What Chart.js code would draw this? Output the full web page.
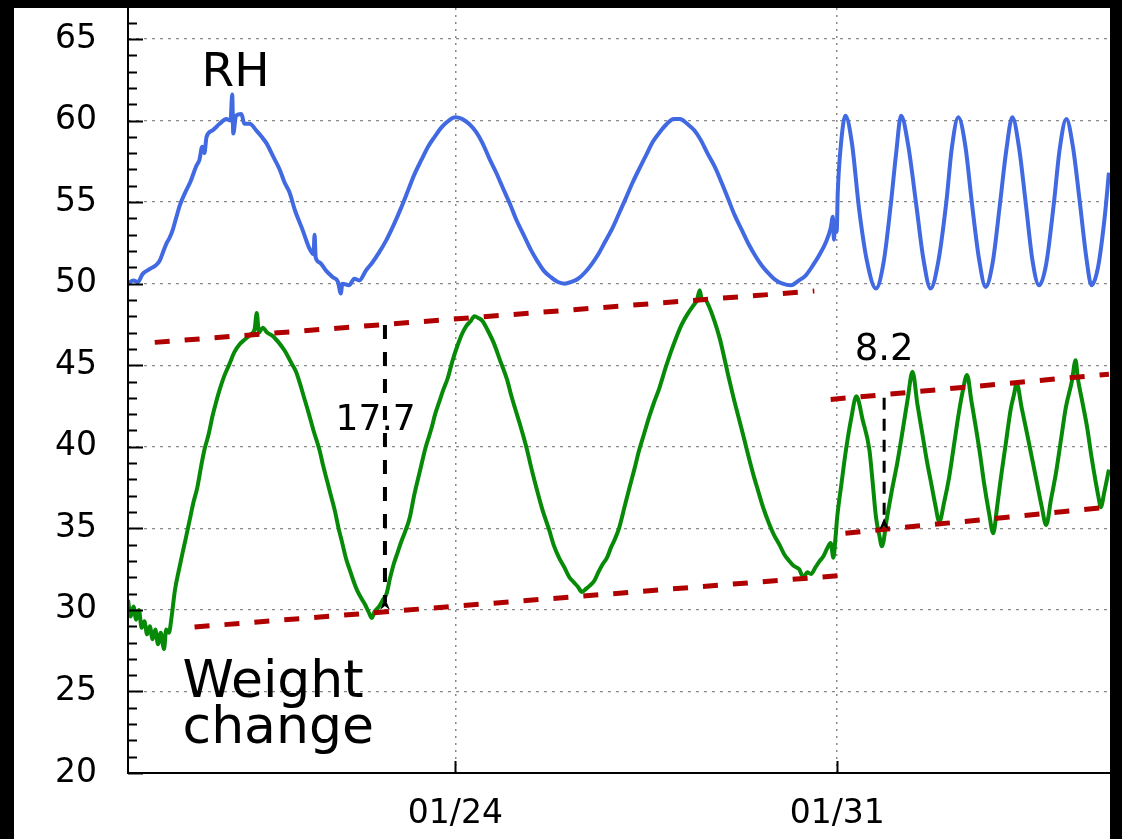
<!DOCTYPE html>
<html>
<head>
<meta charset="utf-8">
<script src="https://cdn.jsdelivr.net/npm/chart.js@4.4.1/dist/chart.umd.min.js"></script>
<style>
  body { margin: 0; background: #000; }
  #wrap { position: absolute; left: 14px; top: 8px; width: 1096px; height: 831px; background: #fff; }
  canvas { display: block; }
</style>
</head>
<body>
<div id="wrap"><canvas id="chart" width="1096" height="831"></canvas></div>
<script>
// days counted from 01/18
const xTickDays = [6, 13];
const xTickLabels = ['01/24', '01/31'];

const rhPoints = [
  [0.00,50.0],[0.10,50.2],[0.18,50.1],[0.27,50.6],[0.40,50.9],[0.50,51.1],[0.58,51.4],[0.65,52.0],[0.71,52.5],[0.76,52.8],
  [0.82,53.3],[0.88,54.0],[0.95,54.8],[1.05,55.6],[1.15,56.3],[1.25,57.2],[1.31,57.6],[1.36,58.4],[1.40,58.0],[1.44,59.0],
  [1.55,59.4],[1.68,59.8],[1.80,60.1],[1.88,60.0],[1.91,61.6],[1.93,59.2],[1.98,60.3],[2.08,60.4],[2.13,59.8],[2.23,59.8],
  [2.35,59.4],[2.45,59.0],[2.54,58.6],[2.66,57.8],[2.78,57.0],[2.87,56.2],[2.96,55.6],[3.06,54.5],[3.20,53.3],[3.32,52.2],
  [3.40,51.8],[3.42,53.0],[3.44,51.6],[3.51,51.3],[3.63,50.8],[3.75,50.4],[3.85,50.1],[3.90,49.4],[3.93,50.0],[4.05,49.9],
  [4.15,50.3],[4.24,50.2],[4.36,50.8],[4.48,51.3],[4.60,51.9],[4.74,52.7],[4.87,53.6],[5.00,54.6],[5.12,55.6],[5.25,56.7],
  [5.38,57.6],[5.50,58.4],[5.62,59.0],[5.75,59.6],[5.88,60.0],[6.00,60.2],[6.12,60.1],[6.25,59.8],[6.38,59.3],[6.50,58.6],
  [6.62,57.7],[6.75,56.8],[6.88,55.8],[7.00,54.9],[7.12,53.9],[7.25,53.0],[7.38,52.1],[7.50,51.4],[7.62,50.8],[7.75,50.4],
  [7.88,50.1],[8.00,50.0],[8.12,50.1],[8.25,50.3],[8.38,50.7],[8.50,51.2],[8.62,51.8],[8.75,52.6],[8.88,53.4],[9.00,54.3],
  [9.12,55.2],[9.25,56.2],[9.38,57.1],[9.50,57.9],[9.62,58.7],[9.75,59.3],[9.88,59.8],[10.00,60.1],[10.12,60.1],[10.25,59.8],
  [10.38,59.4],[10.50,58.8],[10.62,58.0],[10.75,57.2],[10.88,56.2],[11.00,55.2],[11.12,54.2],[11.25,53.3],[11.38,52.4],[11.50,51.7],
  [11.62,51.1],[11.75,50.6],[11.88,50.2],[12.00,50.0],[12.15,49.9],[12.30,50.2],[12.42,50.5],[12.55,51.1],[12.68,51.8],[12.80,52.6],
  [12.88,53.4],[12.92,54.1],[12.94,52.7],[12.96,53.8],[12.99,53.2],[13.01,55.6],[13.07,58.6],[13.15,60.3],[13.27,58.6],[13.40,54.6],
  [13.55,51.3],[13.71,49.7],[13.85,51.3],[13.98,54.8],[14.08,58.0],[14.17,60.3],[14.30,58.5],[14.45,54.8],[14.58,51.5],[14.71,49.7],
  [14.85,51.3],[15.00,55.0],[15.10,58.3],[15.22,60.2],[15.35,58.4],[15.47,54.9],[15.60,51.5],[15.72,49.8],[15.85,51.3],[15.98,54.8],
  [16.10,58.2],[16.21,60.2],[16.33,58.4],[16.46,54.8],[16.58,51.4],[16.70,49.9],[16.83,51.2],[16.97,54.9],[17.08,58.3],[17.20,60.1],
  [17.32,58.4],[17.45,54.9],[17.57,51.5],[17.66,49.9],[17.78,51.0],[17.90,54.0],[17.98,56.8]
];

const weightPoints = [
  [0.00,30.6],[0.05,29.6],[0.10,30.2],[0.15,29.4],[0.20,30.0],[0.25,28.9],[0.30,29.3],[0.35,28.5],[0.40,29.0],[0.45,28.2],
  [0.50,28.8],[0.55,27.9],[0.60,28.6],[0.66,27.6],[0.70,28.8],[0.75,28.6],[0.80,29.6],[0.86,31.2],[0.93,32.4],[1.00,33.5],
  [1.06,34.4],[1.13,35.5],[1.20,36.6],[1.27,37.5],[1.34,38.8],[1.40,39.8],[1.48,40.8],[1.55,41.9],[1.62,42.8],[1.68,43.5],
  [1.76,44.3],[1.85,45.0],[1.95,45.8],[2.05,46.3],[2.15,46.6],[2.25,46.9],[2.32,47.2],[2.36,48.2],[2.40,47.0],[2.47,47.3],
  [2.55,47.0],[2.65,46.8],[2.76,46.4],[2.87,45.9],[3.00,45.1],[3.08,44.6],[3.15,43.9],[3.22,43.1],[3.30,42.2],[3.40,41.0],
  [3.51,39.8],[3.58,38.8],[3.65,37.9],[3.72,37.0],[3.79,36.1],[3.86,35.0],[3.92,34.2],[4.00,33.1],[4.06,32.5],[4.13,31.8],
  [4.20,31.2],[4.28,30.7],[4.35,30.3],[4.42,29.8],[4.47,29.5],[4.52,29.9],[4.60,30.2],[4.67,30.6],[4.74,31.0],[4.80,31.9],
  [4.87,32.8],[4.94,33.5],[5.00,34.1],[5.08,34.8],[5.16,35.6],[5.25,37.1],[5.35,38.5],[5.45,39.9],[5.56,41.1],[5.63,42.0],
  [5.70,42.7],[5.78,43.5],[5.86,44.2],[5.95,45.3],[6.05,46.3],[6.12,46.9],[6.20,47.4],[6.28,47.7],[6.35,48.0],[6.42,47.9],
  [6.50,47.7],[6.60,47.1],[6.70,46.4],[6.82,45.3],[6.95,44.1],[7.02,43.2],[7.10,42.3],[7.20,41.2],[7.30,40.0],[7.40,38.6],
  [7.50,37.3],[7.60,36.1],[7.72,34.9],[7.80,34.0],[7.90,33.2],[8.00,32.6],[8.09,32.0],[8.17,31.7],[8.25,31.4],[8.32,31.1],
  [8.40,31.3],[8.47,31.5],[8.55,31.8],[8.62,32.3],[8.70,32.8],[8.78,33.2],[8.85,33.8],[8.92,34.3],[9.00,35.0],[9.10,36.3],
  [9.20,37.6],[9.28,38.6],[9.37,39.8],[9.46,40.8],[9.55,41.8],[9.64,42.7],[9.74,43.6],[9.85,44.8],[9.95,45.8],[10.05,46.7],
  [10.15,47.5],[10.25,48.1],[10.35,48.6],[10.43,49.0],[10.48,49.6],[10.52,49.0],[10.58,49.0],[10.65,48.6],[10.75,47.7],[10.85,46.6],
  [10.92,45.6],[11.00,44.4],[11.10,43.0],[11.20,41.7],[11.30,40.4],[11.39,39.2],[11.47,38.2],[11.55,37.3],[11.65,36.2],[11.75,35.3],
  [11.84,34.6],[11.94,34.0],[12.03,33.4],[12.12,33.0],[12.20,32.7],[12.30,32.5],[12.38,32.0],[12.45,32.3],[12.52,32.2],[12.60,32.6],
  [12.68,33.0],[12.75,33.3],[12.82,33.8],[12.88,34.1],[12.93,33.2],[12.97,34.5],[13.00,35.7],[13.08,37.8],[13.16,39.8],[13.26,41.8],
  [13.35,43.1],[13.47,41.6],[13.59,39.8],[13.65,37.8],[13.71,35.7],[13.77,34.6],[13.82,33.9],[13.91,35.6],[14.00,37.3],[14.10,39.0],
  [14.19,40.8],[14.29,42.9],[14.38,44.6],[14.47,42.6],[14.56,40.8],[14.64,39.2],[14.72,37.8],[14.80,36.4],[14.87,35.4],[14.96,36.6],
  [15.05,38.1],[15.14,40.1],[15.23,42.1],[15.30,43.4],[15.38,44.4],[15.46,42.8],[15.54,41.2],[15.62,39.5],[15.69,37.8],[15.78,36.0],
  [15.86,34.7],[15.93,36.3],[16.00,38.1],[16.09,40.2],[16.18,42.3],[16.24,43.2],[16.29,43.9],[16.38,42.4],[16.48,40.8],[16.57,39.3],
  [16.66,37.8],[16.75,36.3],[16.83,35.2],[16.92,36.8],[17.01,38.4],[17.10,40.4],[17.19,42.4],[17.30,44.0],[17.37,45.3],[17.41,44.2],
  [17.49,42.8],[17.58,41.2],[17.66,39.4],[17.74,37.8],[17.79,36.9],[17.83,36.3],[17.90,37.3],[17.98,38.6]
];

// envelope lines (dashed red)
const trendUpperSlow = [[0.49,46.4],[12.58,49.55]];
const trendLowerSlow = [[1.22,28.95],[13.22,32.15]];
const trendUpperFast = [[12.88,42.9],[17.98,44.45]];
const trendLowerFast = [[13.15,34.7],[17.98,36.3]];

// amplitude markers: x in days, from/to in % values
const amplitudeMarks = [
  { text: '17.7', day: 4.71, from: 47.47, to: 30.0, textDay: 4.54, textValue: 41.6, big: true },
  { text: '8.2', day: 13.86, from: 43.0, to: 34.9, textDay: 13.86, textValue: 45.9, big: false }
];

const seriesNotes = [
  { lines: ['RH'], day: 1.97, value: 62.12, align: 'center', size: 47 },
  { lines: ['Weight', 'change'], day: 1.0, value: 24.66, align: 'left', size: 52 }
];

const toXY = pts => pts.map(p => ({ x: p[0], y: p[1] }));

const trendStyle = {
  borderColor: '#b00000',
  borderWidth: 5,
  borderDash: [15, 15],
  pointRadius: 0,
  fill: false
};

const overlay = {
  id: 'overlay',
  afterDatasetsDraw(chart) {
    const { ctx, chartArea: a, scales: { x, y } } = chart;
    ctx.save();
    ctx.setLineDash([]);
    ctx.strokeStyle = '#000';
    ctx.lineWidth = 2;

    // axes
    ctx.beginPath();
    ctx.moveTo(a.left, a.top);
    ctx.lineTo(a.left, a.bottom);
    ctx.lineTo(a.right, a.bottom);
    ctx.stroke();

    // inner tick marks
    ctx.beginPath();
    y.ticks.forEach(t => {
      const py = Math.round(y.getPixelForValue(t.value)) + 0.5;
      const len = t.value % 5 === 0 ? 15 : 9;
      ctx.moveTo(a.left, py);
      ctx.lineTo(a.left + len, py);
    });
    x.ticks.forEach(t => {
      const px = Math.round(x.getPixelForValue(t.value)) + 0.5;
      ctx.moveTo(px, a.bottom);
      ctx.lineTo(px, a.bottom - 12);
    });
    ctx.stroke();

    // amplitude markers
    amplitudeMarks.forEach(m => {
      const px = x.getPixelForValue(m.day);
      const top = y.getPixelForValue(m.from);
      const bottom = y.getPixelForValue(m.to);
      ctx.strokeStyle = '#000';
      ctx.lineWidth = m.big ? 4 : 3;
      ctx.setLineDash(m.big ? [14, 13] : [12, 9]);
      ctx.beginPath();
      ctx.moveTo(px, top);
      ctx.lineTo(px, bottom - 8);
      ctx.stroke();
      ctx.setLineDash([]);
      ctx.fillStyle = '#000';
      ctx.beginPath();
      ctx.moveTo(px, bottom - 12);
      ctx.lineTo(px + 5, bottom);
      ctx.lineTo(px, bottom - 4);
      ctx.lineTo(px - 5, bottom);
      ctx.closePath();
      ctx.fill();

      ctx.font = (m.big ? 36 : 37) + 'px "DejaVu Sans"';
      ctx.textAlign = 'center';
      ctx.textBaseline = 'middle';
      ctx.fillText(m.text, x.getPixelForValue(m.textDay), y.getPixelForValue(m.textValue));
    });

    // series names
    seriesNotes.forEach(n => {
      ctx.font = n.size + 'px "DejaVu Sans"';
      ctx.textAlign = n.align;
      ctx.textBaseline = 'alphabetic';
      const px = x.getPixelForValue(n.day);
      const py = y.getPixelForValue(n.value);
      n.lines.forEach((line, i) => ctx.fillText(line, px, py + i * 46));
    });
    ctx.restore();
  }
};

new Chart(document.getElementById('chart'), {
  type: 'line',
  data: {
    datasets: [
      Object.assign({ data: toXY(trendUpperSlow) }, trendStyle),
      Object.assign({ data: toXY(trendLowerSlow) }, trendStyle),
      Object.assign({ data: toXY(trendUpperFast) }, trendStyle),
      Object.assign({ data: toXY(trendLowerFast) }, trendStyle),
      {
        label: 'RH',
        data: toXY(rhPoints),
        borderColor: '#4169e1',
        borderWidth: 4,
        pointRadius: 0,
        cubicInterpolationMode: 'monotone',
        borderJoinStyle: 'round'
      },
      {
        label: 'Weight change',
        data: toXY(weightPoints),
        borderColor: '#078a07',
        borderWidth: 4,
        pointRadius: 0,
        cubicInterpolationMode: 'monotone',
        borderJoinStyle: 'round'
      }
    ]
  },
  options: {
    responsive: false,
    devicePixelRatio: 1,
    animation: false,
    layout: { padding: 0 },
    plugins: { legend: { display: false }, tooltip: { enabled: false } },
    scales: {
      x: {
        type: 'linear',
        min: 0,
        max: 18,
        afterBuildTicks: scale => { scale.ticks = xTickDays.map(v => ({ value: v })); },
        afterFit: scale => {
          scale.height = 66;
          scale.paddingLeft = 0;
          scale.paddingRight = 0;
        },
        grid: { color: '#888', lineWidth: 1.5, drawTicks: false },
        border: { display: false, dash: [2, 5] },
        ticks: {
          callback: v => xTickLabels[xTickDays.indexOf(v)],
          font: { family: '"DejaVu Sans"', size: 33 },
          color: '#000',
          padding: 22,
          maxRotation: 0,
          autoSkip: false
        }
      },
      y: {
        min: 20,
        max: 66.9,
        afterFit: scale => {
          scale.width = 114;
          scale.paddingTop = 0;
          scale.paddingBottom = 0;
        },
        grid: {
          color: c => (c.tick && c.tick.value % 5 === 0 && c.tick.value > 20) ? '#888' : 'rgba(0,0,0,0)',
          lineWidth: 1.3,
          drawTicks: false
        },
        border: { display: false, dash: [3, 5] },
        ticks: {
          stepSize: 1,
          includeBounds: false,
          autoSkip: false,
          callback: v => (v % 5 === 0 ? String(v) : ''),
          font: { family: '"DejaVu Sans"', size: 33 },
          color: '#000',
          padding: 31
        }
      }
    }
  },
  plugins: [overlay]
});
</script>
</body>
</html>
